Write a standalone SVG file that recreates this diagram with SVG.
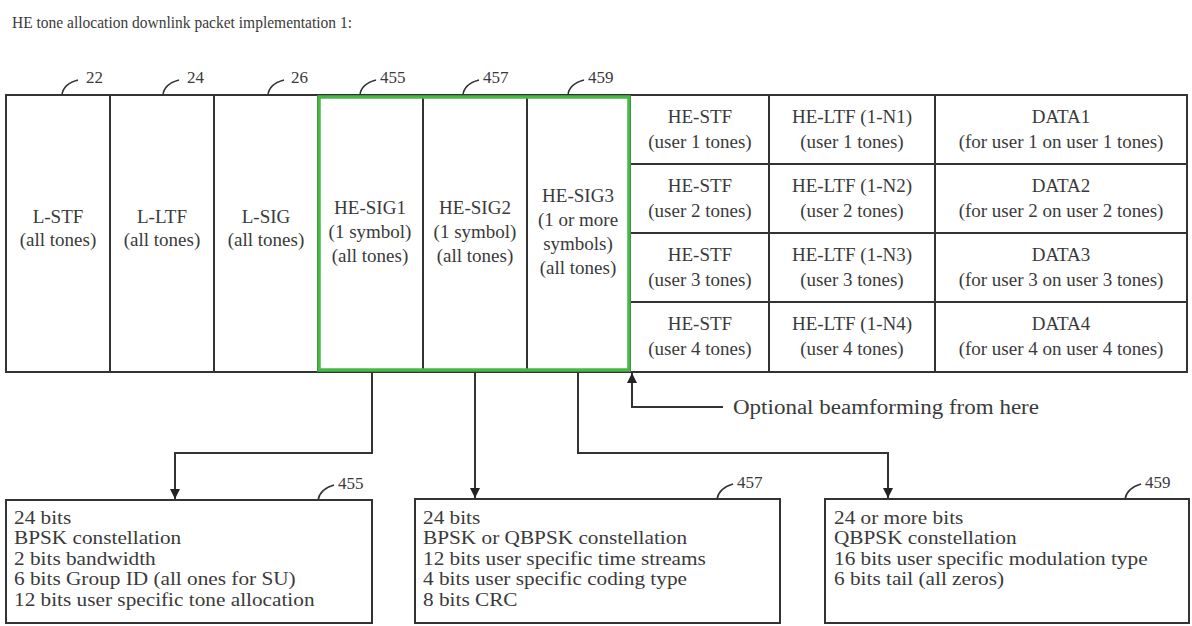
<svg xmlns="http://www.w3.org/2000/svg" width="1192" height="626" viewBox="0 0 1192 626">
<style>
text{font-family:"Liberation Serif","Times New Roman",serif;fill:#3a3a3a}
.t{font-size:17px}
.c{font-size:19px;text-anchor:middle}
.b{font-size:19px}
.r{font-size:17px}
.ln{fill:none;stroke:#333;stroke-width:2}
.cv{fill:none;stroke:#333;stroke-width:1.6}
.box{fill:#fff;stroke:#333;stroke-width:2}
.grn{fill:none;stroke:#45b845;stroke-width:3.5}
</style>
<defs>
<marker id="ah" viewBox="0 0 10 10" refX="10" refY="5" markerWidth="10" markerHeight="10" markerUnits="userSpaceOnUse" orient="auto">
<path d="M0,0 L10,5 L0,10 z" fill="#222"/>
</marker>
</defs>
<rect width="1192" height="626" fill="#fff"/>
<text class="t" x="12" y="28" textLength="340" lengthAdjust="spacingAndGlyphs">HE tone allocation downlink packet implementation 1:</text>

<g id="packet">
<rect class="box" x="6" y="95" width="1181" height="277"/>
<path class="ln" d="M110 95V372M214 95V372M318 95V372M423 95V372M527 95V372M630 95V372M769 95V372M935 95V372M630 164H1187M630 233H1187M630 302H1187"/>
</g>

<g id="lstf">
<text class="c" x="58" y="223">L-STF</text>
<text class="c" x="58" y="246">(all tones)</text>
<path class="cv" d="M62 95Q63 84 78 80"/><text class="r" x="86" y="83">22</text>
</g>
<g id="lltf">
<text class="c" x="162" y="223">L-LTF</text>
<text class="c" x="162" y="246">(all tones)</text>
<path class="cv" d="M163 95Q164 84 179 80"/><text class="r" x="187" y="83">24</text>
</g>
<g id="lsig">
<text class="c" x="266" y="223">L-SIG</text>
<text class="c" x="266" y="246">(all tones)</text>
<path class="cv" d="M268 95Q269 84 284 80"/><text class="r" x="291" y="83">26</text>
</g>
<g id="hesig1">
<text class="c" x="370" y="214">HE-SIG1</text>
<text class="c" x="370" y="238">(1 symbol)</text>
<text class="c" x="370" y="262">(all tones)</text>
<path class="cv" d="M360 95Q361 84 376 80"/><text class="r" x="380" y="83">455</text>
</g>
<g id="hesig2">
<text class="c" x="475" y="214">HE-SIG2</text>
<text class="c" x="475" y="238">(1 symbol)</text>
<text class="c" x="475" y="262">(all tones)</text>
<path class="cv" d="M463 95Q464 84 479 80"/><text class="r" x="483" y="83">457</text>
</g>
<g id="hesig3">
<text class="c" x="578" y="202">HE-SIG3</text>
<text class="c" x="578" y="226">(1 or more</text>
<text class="c" x="578" y="250">symbols)</text>
<text class="c" x="578" y="274">(all tones)</text>
<path class="cv" d="M568 95Q569 84 584 80"/><text class="r" x="588" y="83">459</text>
</g>
<rect id="green-group" class="grn" x="319" y="97" width="310" height="273"/>

<g id="hestf1"><text class="c" x="700" y="123">HE-STF</text><text class="c" x="700" y="148">(user 1 tones)</text></g>
<g id="heltf1"><text class="c" x="852" y="123">HE-LTF (1-N1)</text><text class="c" x="852" y="148">(user 1 tones)</text></g>
<g id="data1"><text class="c" x="1061" y="123">DATA1</text><text class="c" x="1061" y="148">(for user 1 on user 1 tones)</text></g>
<g id="hestf2"><text class="c" x="700" y="192">HE-STF</text><text class="c" x="700" y="217">(user 2 tones)</text></g>
<g id="heltf2"><text class="c" x="852" y="192">HE-LTF (1-N2)</text><text class="c" x="852" y="217">(user 2 tones)</text></g>
<g id="data2"><text class="c" x="1061" y="192">DATA2</text><text class="c" x="1061" y="217">(for user 2 on user 2 tones)</text></g>
<g id="hestf3"><text class="c" x="700" y="261">HE-STF</text><text class="c" x="700" y="286">(user 3 tones)</text></g>
<g id="heltf3"><text class="c" x="852" y="261">HE-LTF (1-N3)</text><text class="c" x="852" y="286">(user 3 tones)</text></g>
<g id="data3"><text class="c" x="1061" y="261">DATA3</text><text class="c" x="1061" y="286">(for user 3 on user 3 tones)</text></g>
<g id="hestf4"><text class="c" x="700" y="330">HE-STF</text><text class="c" x="700" y="355">(user 4 tones)</text></g>
<g id="heltf4"><text class="c" x="852" y="330">HE-LTF (1-N4)</text><text class="c" x="852" y="355">(user 4 tones)</text></g>
<g id="data4"><text class="c" x="1061" y="330">DATA4</text><text class="c" x="1061" y="355">(for user 4 on user 4 tones)</text></g>

<g id="connectors">
<path class="ln" d="M372 372V453H175V499" marker-end="url(#ah)"/>
<path class="ln" d="M475 372V498" marker-end="url(#ah)"/>
<path class="ln" d="M578 372V453H888V498" marker-end="url(#ah)"/>
<path class="ln" d="M723 407H632V373" marker-end="url(#ah)"/>
</g>
<g id="beamforming-note">
<text class="c" style="text-anchor:start;font-size:20px" x="733" y="414" textLength="306" lengthAdjust="spacingAndGlyphs">Optional beamforming from here</text>
</g>

<g id="box455">
<rect class="box" x="6" y="500" width="366" height="123"/>
<path class="cv" d="M318 500Q320 489 334 485"/><text class="r" x="338" y="489">455</text>
<g transform="matrix(1.12 0 0 1 -1.68 0)">
<text class="b" x="14" y="524">24 bits</text>
<text class="b" x="14" y="544.5">BPSK constellation</text>
<text class="b" x="14" y="565">2 bits bandwidth</text>
<text class="b" x="14" y="585.5">6 bits Group ID (all ones for SU)</text>
<text class="b" x="14" y="606">12 bits user specific tone allocation</text>
</g>
</g>
<g id="box457">
<rect class="box" x="415" y="499" width="365" height="124"/>
<path class="cv" d="M717 499Q719 488 733 484"/><text class="r" x="737" y="488">457</text>
<g transform="matrix(1.12 0 0 1 -50.76 0)">
<text class="b" x="423" y="524">24 bits</text>
<text class="b" x="423" y="544.5">BPSK or QBPSK constellation</text>
<text class="b" x="423" y="565">12 bits user specific time streams</text>
<text class="b" x="423" y="585.5">4 bits user specific coding type</text>
<text class="b" x="423" y="606">8 bits CRC</text>
</g>
</g>
<g id="box459">
<rect class="box" x="825" y="499" width="364" height="124"/>
<path class="cv" d="M1125 499Q1127 488 1141 484"/><text class="r" x="1145" y="488">459</text>
<g transform="matrix(1.12 0 0 1 -100.08 0)">
<text class="b" x="834" y="524">24 or more bits</text>
<text class="b" x="834" y="544.5">QBPSK constellation</text>
<text class="b" x="834" y="565">16 bits user specific modulation type</text>
<text class="b" x="834" y="585.5">6 bits tail (all zeros)</text>
</g>
</g>
</svg>
